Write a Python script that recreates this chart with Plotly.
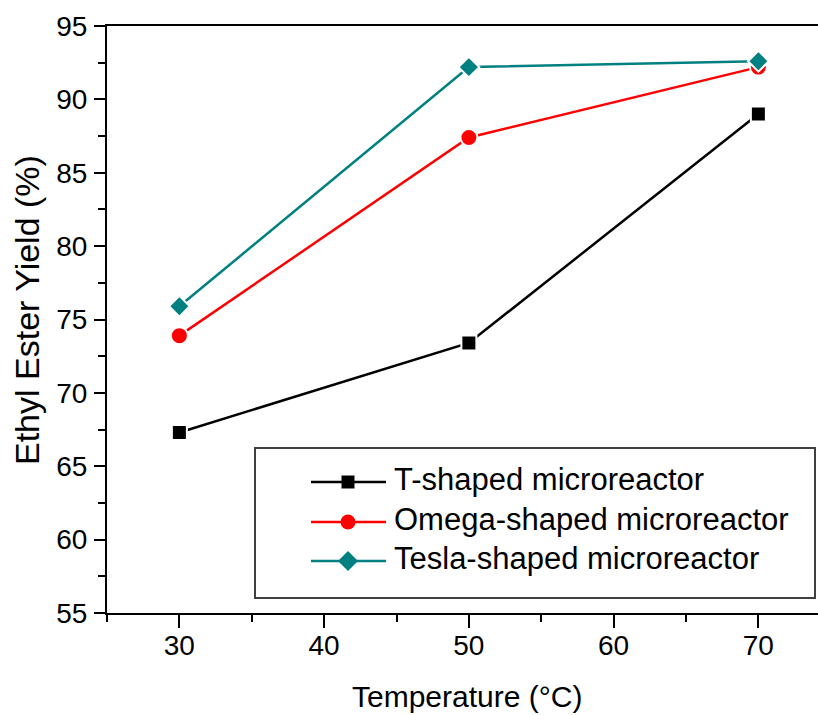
import plotly.graph_objects as go

# Reaction temperature (°C) and ethyl ester yield (%) per microreactor geometry
temperature = [30, 50, 70]
t_shaped = [67.3, 73.4, 89.0]
omega_shaped = [73.9, 87.4, 92.2]
tesla_shaped = [75.9, 92.2, 92.6]

series_names = ["T-shaped microreactor", "Omega-shaped microreactor", "Tesla-shaped microreactor"]
series_values = [t_shaped, omega_shaped, tesla_shaped]
series_colors = ["#000000", "#ff0000", "#008080"]
series_symbols = ["square", "circle", "diamond"]
series_sizes = [15, 17, 16]

y_ticks = [55, 60, 65, 70, 75, 80, 85, 90, 95]
x_ticks = [30, 40, 50, 60, 70]

FONT = "Arial, Liberation Sans, sans-serif"
W, H = 818, 715
ML, MT, MB, MR = 107, 26, 102, 0
PW, PH = W - ML - MR, H - MT - MB


def px_x(px):
    return (px - ML) / PW


def px_y(py):
    return (H - MB - py) / PH


fig = go.Figure()
for name, vals, col, sym, sz in zip(series_names, series_values, series_colors,
                                    series_symbols, series_sizes):
    fig.add_trace(go.Scatter(
        x=temperature, y=vals, name=name, mode="lines+markers",
        line=dict(color=col, width=2.5),
        marker=dict(symbol=sym, size=sz, color=col, line=dict(color="white", width=2)),
        showlegend=False,
    ))

# x spans 25..75 at 14.475 px per degree; the frame runs off the right edge
x_max = 25 + PW / 14.475

fig.update_xaxes(
    range=[25, x_max], tickvals=x_ticks, ticks="outside", ticklen=13, tickwidth=2,
    tickcolor="black", showline=True, linewidth=2, linecolor="black", mirror=True,
    showgrid=False, zeroline=False, ticklabelstandoff=-7,
    tickfont=dict(family=FONT, size=28, color="black"),
    minor=dict(dtick=5, tick0=25, ticks="outside", ticklen=7, tickwidth=2,
               tickcolor="black", showgrid=False),
)
fig.update_yaxes(
    range=[55, 95], tickvals=y_ticks, ticks="outside", ticklen=11, tickwidth=2,
    tickcolor="black", showline=True, linewidth=2, linecolor="black", mirror=False,
    showgrid=False, zeroline=False, ticklabelstandoff=1,
    tickfont=dict(family=FONT, size=28, color="black"),
    minor=dict(dtick=2.5, tick0=55, ticks="outside", ticklen=7, tickwidth=2,
               tickcolor="black", showgrid=False),
)

shapes = []
annotations = []

# Legend frame
shapes.append(dict(type="rect", xref="paper", yref="paper",
                   x0=px_x(255), x1=px_x(815), y0=px_y(598), y1=px_y(448),
                   line=dict(color="#404040", width=2), fillcolor="white", layer="above"))

row_y = [482, 522, 561]
for name, col, sym, ry in zip(series_names, series_colors, series_symbols, row_y):
    shapes.append(dict(type="line", xref="paper", yref="paper",
                       x0=px_x(311), x1=px_x(386), y0=px_y(ry), y1=px_y(ry),
                       line=dict(color=col, width=2.5), layer="above"))
    cx = 348
    if sym == "square":
        r = 6.5
        shapes.append(dict(type="rect", xref="paper", yref="paper",
                           x0=px_x(cx - r), x1=px_x(cx + r), y0=px_y(ry + r), y1=px_y(ry - r),
                           line=dict(width=0), fillcolor=col, layer="above"))
    elif sym == "circle":
        r = 7.5
        shapes.append(dict(type="circle", xref="paper", yref="paper",
                           x0=px_x(cx - r), x1=px_x(cx + r), y0=px_y(ry + r), y1=px_y(ry - r),
                           line=dict(width=0), fillcolor=col, layer="above"))
    else:
        r = 10
        path = "M {},{} L {},{} L {},{} L {},{} Z".format(
            px_x(cx), px_y(ry - r), px_x(cx + r), px_y(ry),
            px_x(cx), px_y(ry + r), px_x(cx - r), px_y(ry))
        shapes.append(dict(type="path", xref="paper", yref="paper", path=path,
                           line=dict(width=0), fillcolor=col, layer="above"))
    annotations.append(dict(text=name, xref="paper", yref="paper", x=px_x(392), y=px_y(ry - 3),
                            xanchor="left", yanchor="middle", showarrow=False,
                            font=dict(family=FONT, size=31, color="black")))

# Axis titles
annotations.append(dict(text="Temperature (°C)", xref="paper", yref="paper",
                        x=px_x(467), y=px_y(696), xanchor="center", yanchor="middle",
                        showarrow=False, font=dict(family=FONT, size=30, color="black")))
annotations.append(dict(text="Ethyl Ester Yield (%)", xref="paper", yref="paper",
                        x=px_x(27), y=px_y(310), xanchor="center", yanchor="middle",
                        textangle=-90, showarrow=False,
                        font=dict(family=FONT, size=34, color="black")))

fig.update_layout(
    width=W, height=H, margin=dict(l=ML, r=MR, t=MT, b=MB),
    paper_bgcolor="white", plot_bgcolor="white",
    shapes=shapes, annotations=annotations, showlegend=False,
)

fig.write_html("out.html")
